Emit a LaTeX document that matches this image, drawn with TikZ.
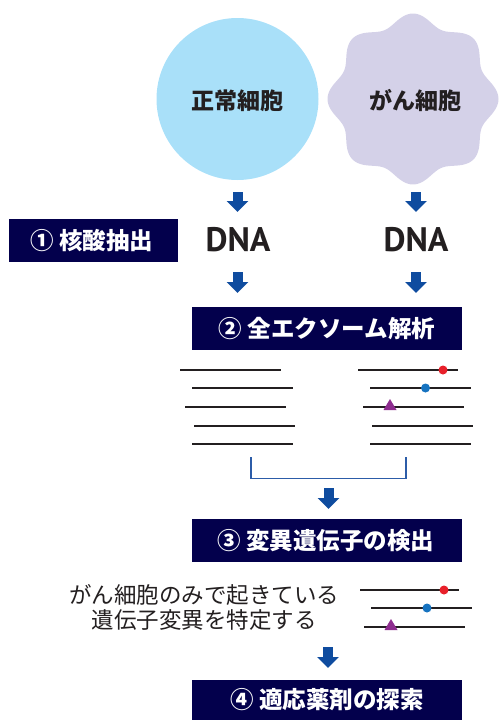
\documentclass[tikz,border=0pt]{standalone}
\usepackage{fontspec}
\newfontfamily\jp{Noto Sans CJK JP}
\newfontfamily\lat{PT Sans}
\usetikzlibrary{arrows.meta}
\definecolor{cellblue}{HTML}{A9E0F9}
\definecolor{cancer}{HTML}{D4D1E8}
\definecolor{navy}{HTML}{03004C}
\definecolor{arrowblue}{HTML}{0F4C9F}
\definecolor{bracketblue}{HTML}{2C5CA8}
\definecolor{ink}{HTML}{231F20}
\definecolor{mred}{HTML}{E8202A}
\definecolor{mblue}{HTML}{1673C0}
\definecolor{mpurple}{HTML}{8E2D8F}
\begin{document}
\begin{tikzpicture}[x=1pt,y=-1pt,
  celltext/.style={font=\jp\bfseries\fontsize{23}{23}\selectfont, text=ink, inner sep=0},
  dnatext/.style={font=\lat\bfseries\fontsize{34}{34}\selectfont, text=ink, inner sep=0},
  boxfont/.style={text=white, font=\jp\bfseries\fontsize{23.5}{23.5}\selectfont, inner sep=0},
  stepbox/.style={fill=navy, minimum width=270pt, minimum height=43pt, inner sep=0},
  blockarrow/.style={draw=arrowblue, line width=10pt, -{Triangle[width=21pt,length=11pt]}},
  seq/.style={draw=ink, line width=1.3pt},
  brk/.style={draw=bracketblue, line width=1.5pt},
  note/.style={font=\jp\fontsize{22.5}{25}\selectfont, text=ink, align=center, inner sep=0},
  reddot/.style={circle, fill=mred, minimum size=9pt, inner sep=0},
  bluedot/.style={circle, fill=mblue, minimum size=9pt, inner sep=0},
  tri/.style={fill=mpurple}
]
\useasboundingbox (0,0) rectangle (498,720);

% cells
\node[circle, fill=cellblue, minimum size=162pt, inner sep=0] (normal) at (237.5,99) {};
\node[celltext] (normaltxt) at (237.5,101) {正常細胞};
\fill[cancer] plot[domain=0:360, samples=240, smooth] ({413+(80+5.5*cos(8*\x))*cos(\x)}, {99+(80+5.5*cos(8*\x))*sin(\x)}) -- cycle;
\coordinate (cancer) at (413,99);
\node[celltext] (cancertxt) at (415,101) {がん細胞};

% arrows to DNA
\coordinate (a1s) at (237.5,192); \coordinate (a1e) at (237.5,212);
\coordinate (a2s) at (416,192); \coordinate (a2e) at (416,212);
\draw[blockarrow] (a1s) -- (a1e);
\draw[blockarrow] (a2s) -- (a2e);

% step 1
\node[fill=navy, minimum width=169pt, minimum height=43pt, inner sep=0] (s1) at (93.5,240.5) {};
\node[boxfont] (s1txt) at (92,240.5) {① 核酸抽出};
\node[dnatext] (dnaL) at (238,240) {DNA};
\node[dnatext] (dnaR) at (416,240) {DNA};

\coordinate (b1s) at (237.5,272); \coordinate (b1e) at (237.5,293);
\coordinate (b2s) at (416,272); \coordinate (b2e) at (416,293);
\draw[blockarrow] (b1s) -- (b1e);
\draw[blockarrow] (b2s) -- (b2e);

% step 2
\node[stepbox] (s2) at (327,328.5) {};
\node[boxfont] (s2txt) at (327,328.5) {② 全エクソーム解析};

% sequences left
\coordinate (l1a) at (180,370); \coordinate (l1b) at (281,370);
\coordinate (l2a) at (192,388); \coordinate (l2b) at (293,388);
\coordinate (l3a) at (185,407); \coordinate (l3b) at (286,407);
\coordinate (l4a) at (194,426); \coordinate (l4b) at (295,426);
\coordinate (l5a) at (192,444); \coordinate (l5b) at (293,444);
\draw[seq] (l1a) -- (l1b);
\draw[seq] (l2a) -- (l2b);
\draw[seq] (l3a) -- (l3b);
\draw[seq] (l4a) -- (l4b);
\draw[seq] (l5a) -- (l5b);
% sequences right
\coordinate (r1a) at (358,370); \coordinate (r1b) at (458,370);
\coordinate (r2a) at (370,388); \coordinate (r2b) at (471,388);
\coordinate (r3a) at (363,407); \coordinate (r3b) at (464,407);
\coordinate (r4a) at (372,426); \coordinate (r4b) at (473,426);
\coordinate (r5a) at (370,444); \coordinate (r5b) at (471,444);
\draw[seq] (r1a) -- (r1b);
\draw[seq] (r2a) -- (r2b);
\draw[seq] (r3a) -- (r3b);
\draw[seq] (r4a) -- (r4b);
\draw[seq] (r5a) -- (r5b);
\node[reddot] (m1) at (443,370) {};
\node[bluedot] (m2) at (425.5,388) {};
\fill[tri] (383.5,410) -- (390,399) -- (396.5,410) -- cycle;
\coordinate (m3) at (390,406);

% bracket
\coordinate (k1) at (251,457); \coordinate (k2) at (251,478.5);
\coordinate (k3) at (406,478.5); \coordinate (k4) at (406,457);
\draw[brk] (k1) -- (k2) -- (k3) -- (k4);

\coordinate (c1s) at (328.5,488); \coordinate (c1e) at (328.5,509);
\draw[blockarrow] (c1s) -- (c1e);

% step 3
\node[stepbox] (s3) at (327,540.5) {};
\node[boxfont] (s3txt) at (326,540.5) {③ 変異遺伝子の検出};

% note
\node[note] (notetxt) at (204,607.5) {がん細胞のみで起きている\\遺伝子変異を特定する};
\coordinate (n1a) at (360,590); \coordinate (n1b) at (459,590);
\coordinate (n2a) at (371,608); \coordinate (n2b) at (472,608);
\coordinate (n3a) at (364,627); \coordinate (n3b) at (465,627);
\draw[seq] (n1a) -- (n1b);
\draw[seq] (n2a) -- (n2b);
\draw[seq] (n3a) -- (n3b);
\node[reddot] (p1) at (444,590) {};
\node[bluedot] (p2) at (427,608) {};
\fill[tri] (384.5,630) -- (391,619) -- (397.5,630) -- cycle;
\coordinate (p3) at (391,626);

\coordinate (d1s) at (328,647); \coordinate (d1e) at (328,668);
\draw[blockarrow] (d1s) -- (d1e);

% step 4
\node[fill=navy, minimum width=270pt, minimum height=40pt, inner sep=0] (s4) at (327,700) {};
\node[boxfont] (s4txt) at (327,700) {④ 適応薬剤の探索};
\end{tikzpicture}
\end{document}
